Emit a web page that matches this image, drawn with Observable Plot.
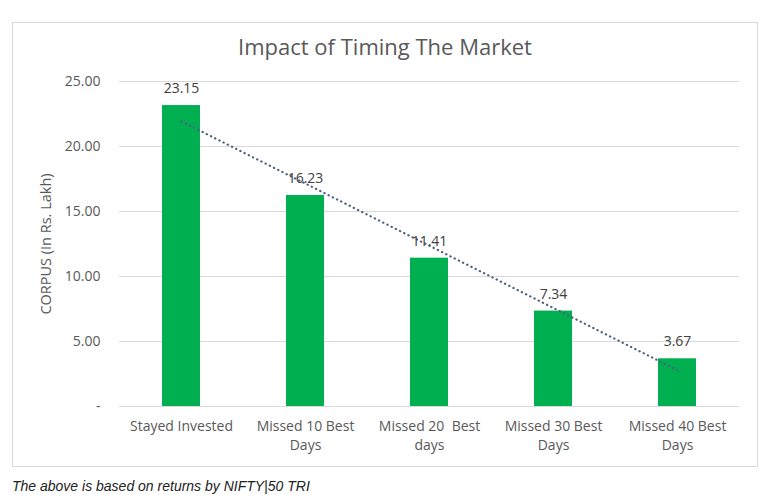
<!DOCTYPE html>
<html>
<head>
<meta charset="utf-8">
<script src="https://cdn.jsdelivr.net/npm/d3@7"></script>
<script src="https://cdn.jsdelivr.net/npm/@observablehq/plot@0.6"></script>
<style>
  html, body { margin: 0; padding: 0; background: #fff; }
  body { width: 783px; height: 495px; position: relative; overflow: hidden; font-family: "Open Sans", sans-serif; }
  #frame { position: absolute; left: 12px; top: 22px; width: 746px; height: 445px; border: 1px solid #d9d9d9; box-sizing: border-box; }
  #title { position: absolute; left: 12px; width: 746px; top: 31px; text-align: center; font-size: 22px; line-height: 30px; color: #595959; }
  #chart { position: absolute; left: 12px; top: 62px; }
  #caption { position: absolute; left: 12px; top: 477px; font-family: "Liberation Sans Narrow", "Liberation Sans", Arial, sans-serif; font-style: italic; font-size: 14px; line-height: 18px; color: #222; white-space: nowrap; }
</style>
</head>
<body>
<div id="frame"></div>
<div id="title"></div>
<div id="chart"></div>
<div id="caption"></div>
<script>
const titleText = "Impact of Timing The Market";
const yLabel = "CORPUS (In Rs. Lakh)";
const captionText = "The above is based on returns by NIFTY|50 TRI";
const categories = ["Stayed Invested", "Missed 10 Best\nDays", "Missed 20  Best\ndays", "Missed 30 Best\nDays", "Missed 40 Best\nDays"];
const corpus = [23.15, 16.23, 11.41, 7.34, 3.67];
const yTicks = [0, 5, 10, 15, 20, 25];
const yTickLabels = ["-", "5.00", "10.00", "15.00", "20.00", "25.00"];

document.getElementById("title").textContent = titleText;
document.getElementById("caption").textContent = captionText;

const data = categories.map((c, i) => ({category: c, value: corpus[i], idx: i + 1}));

// linear trendline (least squares) through the bar values
const mx = d3.mean(data, d => d.idx), my = d3.mean(data, d => d.value);
const slope = d3.sum(data, d => (d.idx - mx) * (d.value - my)) / d3.sum(data, d => (d.idx - mx) ** 2);
const trend = data.map(d => ({category: d.category, value: my + slope * (d.idx - mx)}));

const chart = Plot.plot({
  width: 745,
  height: 404,
  marginTop: 19,
  marginBottom: 60,
  marginLeft: 107,
  marginRight: 18,
  style: {fontFamily: "Open Sans, sans-serif", background: "transparent"},
  x: {domain: categories, paddingInner: 0.69, paddingOuter: 0.345, label: null},
  y: {domain: [0, 25], label: null},
  marks: [
    Plot.gridY(yTicks, {stroke: "#d9d9d9", strokeOpacity: 1, strokeWidth: 1}),
    Plot.barY(data, {x: "category", y: "value", fill: "#00B050"}),
    Plot.line(trend, {x: "category", y: "value", stroke: "#4f6088", strokeWidth: 2.2, strokeDasharray: "0.3,4.4", strokeLinecap: "round"}),
    Plot.text(data, {x: "category", y: "value", text: d => d.value.toFixed(2), dy: -17, fill: "#404040", fontSize: 14}),
    Plot.axisY({ticks: yTicks, tickFormat: d => yTickLabels[yTicks.indexOf(d)], tickSize: 0, tickPadding: 19, fontSize: 14, fill: "#595959", label: null}),
    Plot.axisX({tickSize: 0, tickPadding: 11, fontSize: 14, lineHeight: 1.35, fill: "#595959", label: null}),
    Plot.text([yLabel], {frameAnchor: "left", text: d => d, rotate: -90, textAnchor: "middle", dx: -73, fontSize: 14.5, fill: "#595959"})
  ]
});
document.getElementById("chart").appendChild(chart);
</script>
</body>
</html>
